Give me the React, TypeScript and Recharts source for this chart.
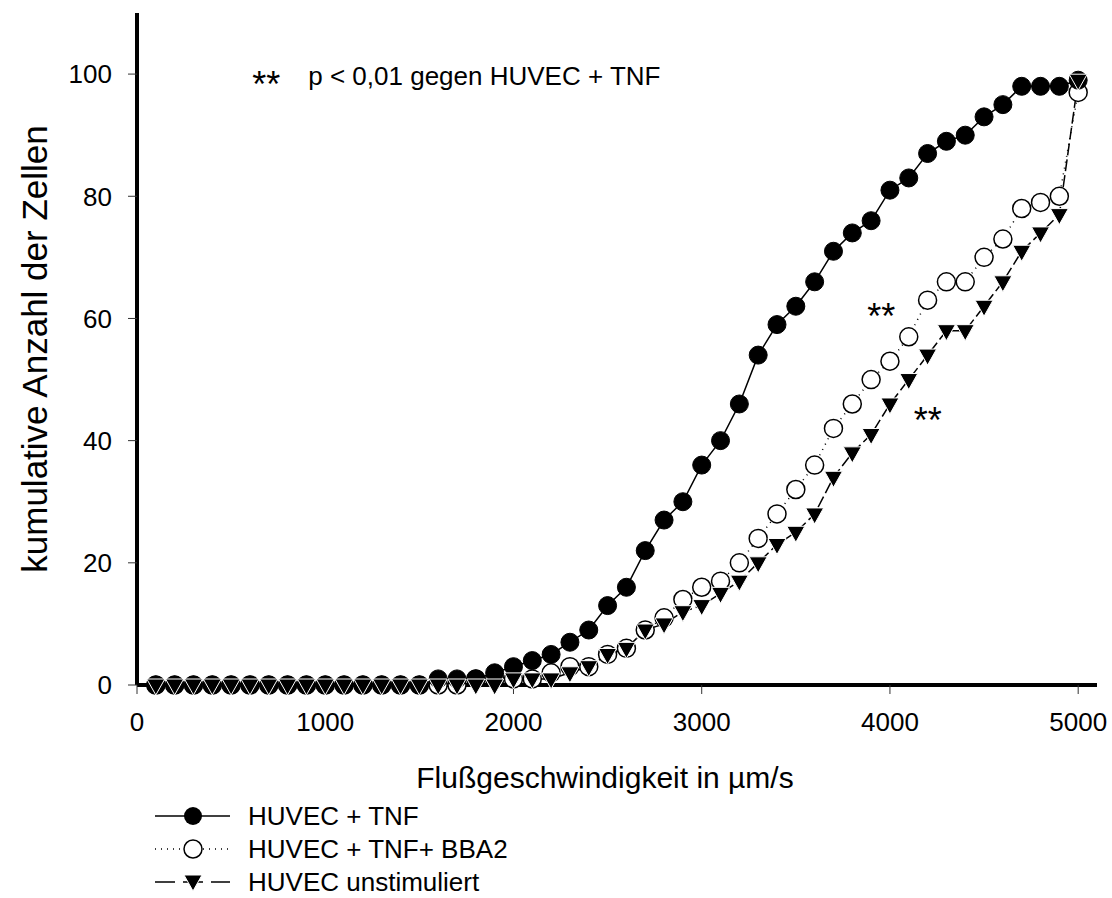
import { LineChart, Line, XAxis, YAxis, ReferenceDot } from 'recharts';

// Flow speed (µm/s) at which the cells were counted
const speeds = [
  100, 200, 300, 400, 500, 600, 700, 800, 900, 1000,
  1100, 1200, 1300, 1400, 1500, 1600, 1700, 1800, 1900, 2000,
  2100, 2200, 2300, 2400, 2500, 2600, 2700, 2800, 2900, 3000,
  3100, 3200, 3300, 3400, 3500, 3600, 3700, 3800, 3900, 4000,
  4100, 4200, 4300, 4400, 4500, 4600, 4700, 4800, 4900, 5000,
];

// cumulative number of cells
const huvecTnf = [
  0, 0, 0, 0, 0, 0, 0, 0, 0, 0,
  0, 0, 0, 0, 0, 1, 1, 1, 2, 3,
  4, 5, 7, 9, 13, 16, 22, 27, 30, 36,
  40, 46, 54, 59, 62, 66, 71, 74, 76, 81,
  83, 87, 89, 90, 93, 95, 98, 98, 98, 99,
];
const huvecTnfBba2 = [
  0, 0, 0, 0, 0, 0, 0, 0, 0, 0,
  0, 0, 0, 0, 0, 0, 0, 1, 1, 1,
  1, 2, 3, 3, 5, 6, 9, 11, 14, 16,
  17, 20, 24, 28, 32, 36, 42, 46, 50, 53,
  57, 63, 66, 66, 70, 73, 78, 79, 80, 97,
];
const huvecUnstim = [
  0, 0, 0, 0, 0, 0, 0, 0, 0, 0,
  0, 0, 0, 0, 0, 0, 0, 0, 0, 1,
  1, 1, 2, 3, 5, 6, 9, 10, 12, 13,
  15, 17, 20, 23, 25, 28, 34, 38, 41, 46,
  50, 54, 58, 58, 62, 66, 71, 74, 77, 99,
];

const seriesNames = ['HUVEC + TNF', 'HUVEC + TNF+ BBA2', 'HUVEC unstimuliert'];
const xTicks = [0, 1000, 2000, 3000, 4000, 5000];
const yTicks = [0, 20, 40, 60, 80, 100];

const xTitle = 'Flußgeschwindigkeit in µm/s';
const yTitle = 'kumulative Anzahl der Zellen';

// significance notes, anchored in data coordinates
const notes = [
  { x: 612, y: 96.3, text: '**', size: 36 },
  { x: 910, y: 98.2, text: 'p < 0,01 gegen HUVEC + TNF', size: 26 },
  { x: 3880, y: 58.2, text: '**', size: 36 },
  { x: 4126, y: 41.3, text: '**', size: 36 },
];

const data = speeds.map((s, i) => ({
  speed: s,
  tnf: huvecTnf[i],
  bba2: huvecTnfBba2[i],
  unstim: huvecUnstim[i],
}));

const FONT = "Arial, 'Liberation Sans', Helvetica, sans-serif";

const TriangleDot = (props: any) => {
  const { cx, cy, index } = props;
  if (cx == null || cy == null) return null;
  return (
    <path
      key={`tri-${index}`}
      d={`M${cx - 9},${cy - 6}L${cx + 9},${cy - 6}L${cx},${cy + 10}Z`}
      fill="#000"
      stroke="#fff"
      strokeWidth={1}
    />
  );
};

const XTitle = (props: any) => {
  const { x, y, width } = props.viewBox;
  return (
    <text x={x + width / 2 - 12} y={y + 103} textAnchor="middle" fontSize={30} fill="#000" fontFamily={FONT}>
      {xTitle}
    </text>
  );
};

const YTitle = (props: any) => {
  const { y, height } = props.viewBox;
  const cx = 47;
  const cy = y + height / 2;
  return (
    <text x={cx} y={cy} textAnchor="middle" fontSize={35} fill="#000" fontFamily={FONT} transform={`rotate(-90, ${cx}, ${cy})`}>
      {yTitle}
    </text>
  );
};

function LegendRow({ y, kind, label }: { y: number; kind: number; label: string }) {
  return (
    <g>
      {kind === 0 && <line x1={155} x2={230} y1={y} y2={y} stroke="#000" strokeWidth={1.5} />}
      {kind === 1 && <line x1={155} x2={230} y1={y} y2={y} stroke="#000" strokeWidth={1.5} strokeDasharray="1 5" />}
      {kind === 2 && <line x1={155} x2={230} y1={y} y2={y} stroke="#000" strokeWidth={1.5} strokeDasharray="20 8" />}
      {kind === 0 && <circle cx={193} cy={y} r={9} fill="#000" />}
      {kind === 1 && <circle cx={193} cy={y} r={9} fill="#fff" stroke="#000" strokeWidth={1.5} />}
      {kind === 2 && <path d={`M${184},${y - 7}L${202},${y - 7}L${193},${y + 9}Z`} fill="#000" stroke="#fff" strokeWidth={1} />}
      <text x={248} y={y + 9} fontSize={26} fill="#000" fontFamily={FONT}>
        {label}
      </text>
    </g>
  );
}

export default function App() {
  return (
    <div style={{ position: 'absolute', left: 0, top: 0, width: 1112, height: 898, background: '#fff', fontFamily: FONT }}>
      <LineChart width={1112} height={898} data={data} margin={{ top: 13, right: 15, left: 0, bottom: 0 }}>
        <XAxis
          dataKey="speed"
          type="number"
          domain={[0, 5100]}
          ticks={xTicks}
          height={213}
          tickSize={9}
          tickMargin={19}
          axisLine={{ stroke: '#000', strokeWidth: 4 }}
          tickLine={{ stroke: '#333', strokeWidth: 1 }}
          tick={{ fill: '#000', fontSize: 26 }}
          label={{ content: XTitle }}
        />
        <YAxis
          type="number"
          domain={[0, 110]}
          ticks={yTicks}
          width={137}
          tickSize={9}
          tickMargin={16}
          axisLine={{ stroke: '#000', strokeWidth: 4 }}
          tickLine={{ stroke: '#333', strokeWidth: 1 }}
          tick={{ fill: '#000', fontSize: 26 }}
          label={{ content: YTitle }}
        />
        <Line
          dataKey="bba2"
          name={seriesNames[1]}
          stroke="#000"
          strokeWidth={1.5}
          strokeDasharray="1 5"
          dot={{ r: 9, fill: '#fff', stroke: '#000', strokeWidth: 1.5, strokeDasharray: '' }}
          isAnimationActive={false}
        />
        <Line
          dataKey="tnf"
          name={seriesNames[0]}
          stroke="#000"
          strokeWidth={1.5}
          dot={{ r: 9, fill: '#000', stroke: '#000', strokeWidth: 1 }}
          isAnimationActive={false}
        />
        <Line
          dataKey="unstim"
          name={seriesNames[2]}
          stroke="#000"
          strokeWidth={1.5}
          strokeDasharray="12 4"
          dot={TriangleDot}
          isAnimationActive={false}
        />
        {notes.map((n, i) => (
          <ReferenceDot
            key={i}
            x={n.x}
            y={n.y}
            r={0}
            shape={(p: any) => (
              <text x={p.cx} y={p.cy} fontSize={n.size} fill="#000" fontFamily={FONT}>
                {n.text}
              </text>
            )}
          />
        ))}
      </LineChart>
      <svg width={1112} height={898} style={{ position: 'absolute', left: 0, top: 0, pointerEvents: 'none' }}>
        {seriesNames.map((name, i) => (
          <LegendRow key={name} y={816 + i * 33} kind={i} label={name} />
        ))}
      </svg>
    </div>
  );
}
